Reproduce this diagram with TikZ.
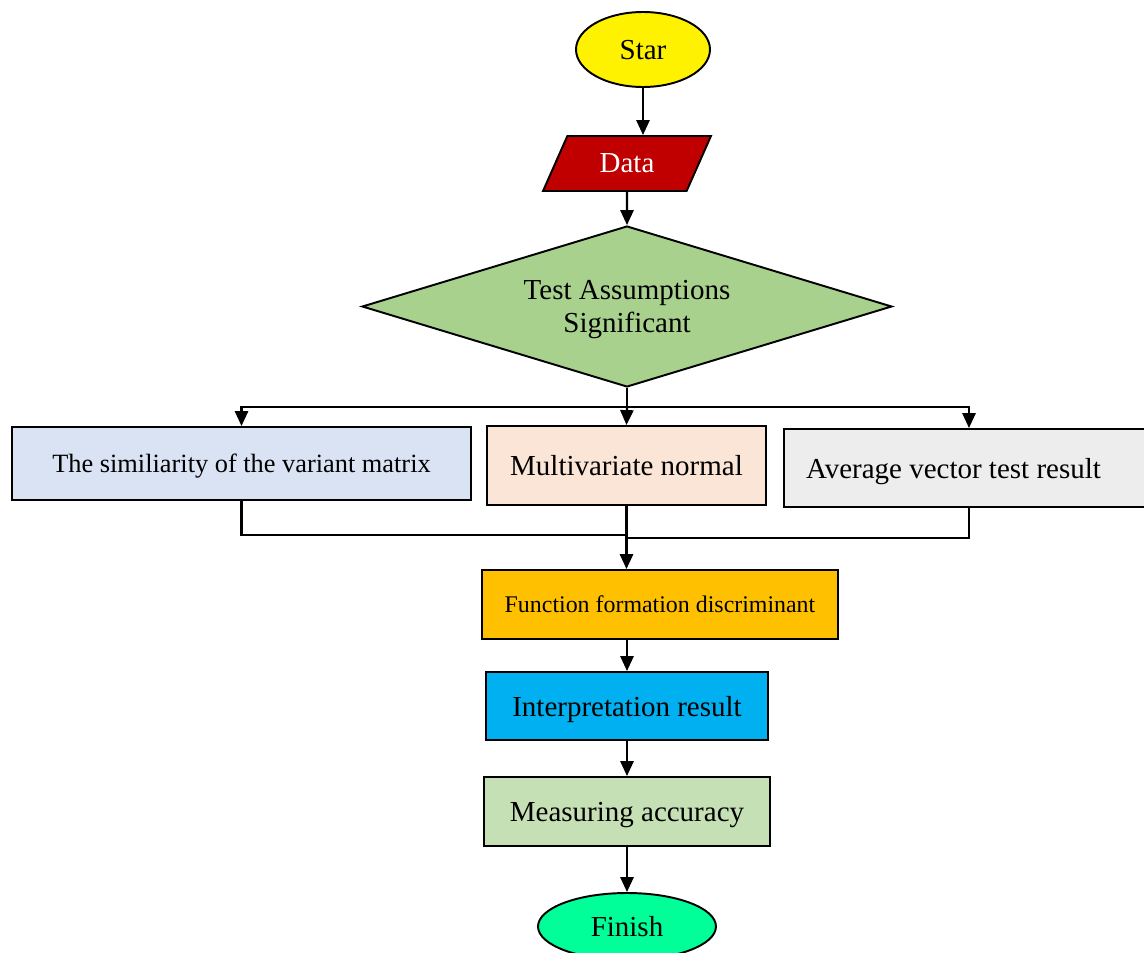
\documentclass[tikz,border=0pt]{standalone}
\usepackage{fontspec}
\setmainfont{Liberation Serif}
\usetikzlibrary{shapes.geometric, arrows.meta, positioning}

\begin{document}
\begin{tikzpicture}[x=0.02cm, y=-0.02cm,
    every node/.append style={draw, line width=1.1pt, font=\fontsize{16.5}{19}\selectfont, inner sep=2mm, text depth=0pt},
    box/.style={rectangle, minimum width=#1},
    arr/.style={line width=1.3pt, -{Triangle[length=8.5pt, width=7.5pt]}},
    line/.style={line width=1.3pt}]
    \useasboundingbox (0,0) rectangle (1144,953);

    % start and data
    \node[ellipse, fill=yellow, minimum width=2.68cm, minimum height=1.5cm] (start) at (643,49.5) {Star};
    \node[trapezium, trapezium left angle=58, trapezium right angle=122,
        trapezium stretches body=true, fill={rgb,255:red,192;green,0;blue,0}, text=white,
        minimum width=3.36cm, minimum height=1.1cm] (data) at (627,163.5) {Data};
    \node[diamond, aspect=3.3, align=center, fill={rgb,255:red,169;green,209;blue,142},
        minimum width=10.6cm, minimum height=3.22cm] (test) at (627,306.5) {Test Assumptions\\Significant};

    % the three tests
    \node[box=9.18cm, minimum height=1.46cm, fill={rgb,255:red,218;green,227;blue,243},
        font=\fontsize{15}{18}\selectfont] (simil) at (241.5,463.5) {The similiarity of the variant matrix};
    \node[box=5.58cm, minimum height=1.58cm, fill={rgb,255:red,251;green,229;blue,214}] (multi) at (626.5,465.5) {Multivariate normal};
    \node[box=7.32cm, minimum height=1.56cm, fill={rgb,255:red,237;green,237;blue,237},
        text width=6.44cm, inner xsep=0.44cm, align=flush left] (avg) at (967,468) {Average vector test result};

    % the rest of the flow
    \node[box=7.12cm, minimum height=1.38cm, fill={rgb,255:red,255;green,192;blue,0},
        font=\fontsize{13.6}{16}\selectfont] (func) at (660,604.5) {Function formation discriminant};
    \node[box=5.64cm, minimum height=1.36cm, fill={rgb,255:red,0;green,176;blue,240}] (interp) at (627,706) {Interpretation result};
    \node[box=5.72cm, minimum height=1.38cm, fill={rgb,255:red,197;green,224;blue,180}] (measure) at (627,811.5) {Measuring accuracy};
    \node[ellipse, fill={rgb,255:red,0;green,255;blue,153}, minimum width=3.56cm, minimum height=1.34cm] (finish) at (627,926.5) {Finish};

    \coordinate (split) at (627,407);
    \coordinate (avgin) at (969,407);
    \coordinate (avgout) at (969,538);
    \coordinate (joinl) at (627,535);
    \coordinate (joinr) at (627,538);

    \draw[arr] (start.south) -- (start.south |- data.north);
    \draw[arr] (data.south) -- (test.north);
    \draw[line] (test.south) -- (split);
    \draw[arr] (split) -| (simil.north);
    \draw[arr] (split) -- (multi.north);
    \draw[arr] (split) -- (avgin) -- (avgin |- avg.north);
    \draw[line] (simil.south) |- (joinl);
    \draw[line] (avgin |- avg.south) -- (avgout) -- (joinr);
    \draw[arr] (multi.south) -- (multi.south |- func.north);
    \draw[arr] (func.south -| interp.north) -- (interp.north);
    \draw[arr] (interp.south) -- (measure.north);
    \draw[arr] (measure.south) -- (finish.north);
\end{tikzpicture}
\end{document}
